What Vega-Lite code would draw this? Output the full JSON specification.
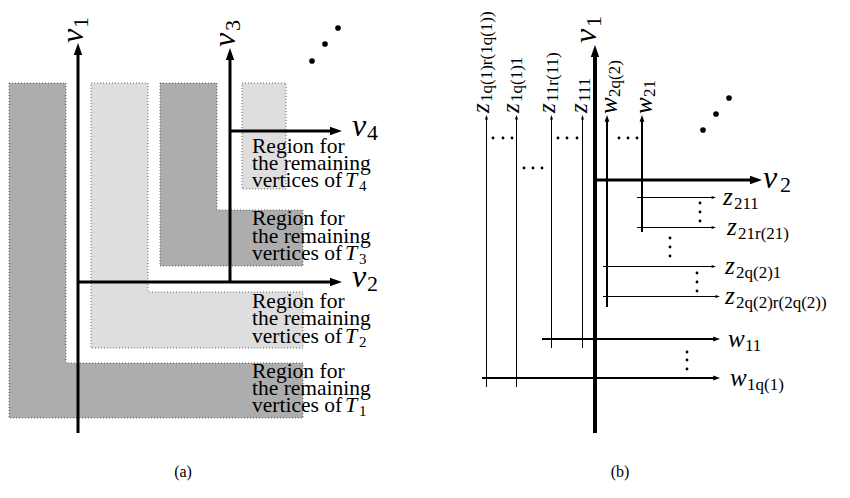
{
  "$schema": "https://vega.github.io/schema/vega-lite/v6.json",
  "width": 850,
  "height": 498,
  "autosize": {"type": "fit", "contains": "padding"},
  "padding": 0,
  "background": "white",
  "config": {"view": {"stroke": null}},
  "resolve": {"scale": {"size": "independent"}},
  "datasets": {
    "rects": [
      {"x": 9, "x2": 66, "y": 83, "y2": 365, "s": "dark"},
      {"x": 9, "x2": 303, "y": 363, "y2": 418, "s": "dark"},
      {"x": 91, "x2": 148, "y": 83, "y2": 294, "s": "light"},
      {"x": 91, "x2": 303, "y": 292, "y2": 348, "s": "light"},
      {"x": 160, "x2": 217, "y": 83, "y2": 212, "s": "dark"},
      {"x": 160, "x2": 303, "y": 210, "y2": 266, "s": "dark"},
      {"x": 242, "x2": 286, "y": 83, "y2": 189, "s": "light"}
    ],
    "outlines": [
      {"r": "T1", "o": 0, "x": 9, "y": 83}, {"r": "T1", "o": 1, "x": 66, "y": 83}, {"r": "T1", "o": 2, "x": 66, "y": 363}, {"r": "T1", "o": 3, "x": 303, "y": 363}, {"r": "T1", "o": 4, "x": 303, "y": 418}, {"r": "T1", "o": 5, "x": 9, "y": 418}, {"r": "T1", "o": 6, "x": 9, "y": 83},
      {"r": "T2", "o": 0, "x": 91, "y": 83}, {"r": "T2", "o": 1, "x": 148, "y": 83}, {"r": "T2", "o": 2, "x": 148, "y": 292}, {"r": "T2", "o": 3, "x": 303, "y": 292}, {"r": "T2", "o": 4, "x": 303, "y": 348}, {"r": "T2", "o": 5, "x": 91, "y": 348}, {"r": "T2", "o": 6, "x": 91, "y": 83},
      {"r": "T3", "o": 0, "x": 160, "y": 83}, {"r": "T3", "o": 1, "x": 217, "y": 83}, {"r": "T3", "o": 2, "x": 217, "y": 210}, {"r": "T3", "o": 3, "x": 303, "y": 210}, {"r": "T3", "o": 4, "x": 303, "y": 266}, {"r": "T3", "o": 5, "x": 160, "y": 266}, {"r": "T3", "o": 6, "x": 160, "y": 83},
      {"r": "T4", "o": 0, "x": 242, "y": 83}, {"r": "T4", "o": 1, "x": 286, "y": 83}, {"r": "T4", "o": 2, "x": 286, "y": 189}, {"r": "T4", "o": 3, "x": 242, "y": 189}, {"r": "T4", "o": 4, "x": 242, "y": 83}
    ],
    "rules": [
      {"x": 78, "y": 49, "x2": 78, "y2": 433, "w": "thick"},
      {"x": 78, "y": 282, "x2": 336, "y2": 282, "w": "thick"},
      {"x": 230, "y": 54, "x2": 230, "y2": 282, "w": "thick"},
      {"x": 230, "y": 131, "x2": 336, "y2": 131, "w": "thick"},
      {"x": 595, "y": 51, "x2": 595, "y2": 433, "w": "xthick"},
      {"x": 595, "y": 180, "x2": 756, "y2": 180, "w": "thick"},
      {"x": 642, "y": 118, "x2": 642, "y2": 232, "w": "medium"},
      {"x": 607, "y": 118, "x2": 607, "y2": 307, "w": "medium"},
      {"x": 542, "y": 339, "x2": 716, "y2": 339, "w": "medium"},
      {"x": 482, "y": 378, "x2": 716, "y2": 378, "w": "medium"},
      {"x": 486.5, "y": 117, "x2": 486.5, "y2": 387, "w": "thin"},
      {"x": 516.5, "y": 117, "x2": 516.5, "y2": 387, "w": "thin"},
      {"x": 551.5, "y": 117, "x2": 551.5, "y2": 348, "w": "thin"},
      {"x": 582.5, "y": 117, "x2": 582.5, "y2": 348, "w": "thin"},
      {"x": 637, "y": 197.5, "x2": 713, "y2": 197.5, "w": "thin"},
      {"x": 637, "y": 227.5, "x2": 713, "y2": 227.5, "w": "thin"},
      {"x": 603, "y": 266.5, "x2": 713, "y2": 266.5, "w": "thin"},
      {"x": 603, "y": 296.5, "x2": 717, "y2": 296.5, "w": "thin"}
    ],
    "arrows": [
      {"x": 78, "y": 43, "dir": "up", "w": "big"},
      {"x": 230, "y": 48, "dir": "up", "w": "big"},
      {"x": 342, "y": 282, "dir": "right", "w": "big"},
      {"x": 342, "y": 131, "dir": "right", "w": "big"},
      {"x": 595, "y": 45, "dir": "up", "w": "big"},
      {"x": 762, "y": 180, "dir": "right", "w": "big"},
      {"x": 720, "y": 339, "dir": "right", "w": "med"},
      {"x": 720, "y": 378, "dir": "right", "w": "med"},
      {"x": 642, "y": 115, "dir": "up", "w": "med"},
      {"x": 607, "y": 115, "dir": "up", "w": "med"},
      {"x": 486.5, "y": 115, "dir": "up", "w": "small"},
      {"x": 516.5, "y": 115, "dir": "up", "w": "small"},
      {"x": 551.5, "y": 115, "dir": "up", "w": "small"},
      {"x": 582.5, "y": 115, "dir": "up", "w": "small"},
      {"x": 716, "y": 197.5, "dir": "right", "w": "small"},
      {"x": 716, "y": 227.5, "dir": "right", "w": "small"},
      {"x": 716, "y": 266.5, "dir": "right", "w": "small"},
      {"x": 720, "y": 296.5, "dir": "right", "w": "small"}
    ],
    "dots": [
      {"x": 312, "y": 61, "k": "big"}, {"x": 325, "y": 44, "k": "big"}, {"x": 338, "y": 28, "k": "big"},
      {"x": 703, "y": 130, "k": "big"}, {"x": 716, "y": 114, "k": "big"}, {"x": 729, "y": 98, "k": "big"},
      {"x": 493, "y": 138, "k": "small"}, {"x": 503, "y": 138, "k": "small"}, {"x": 512, "y": 138, "k": "small"},
      {"x": 558, "y": 138, "k": "small"}, {"x": 567, "y": 138, "k": "small"}, {"x": 577, "y": 138, "k": "small"},
      {"x": 619, "y": 138, "k": "small"}, {"x": 628, "y": 138, "k": "small"}, {"x": 637, "y": 138, "k": "small"},
      {"x": 524, "y": 168, "k": "small"}, {"x": 533, "y": 168, "k": "small"}, {"x": 542, "y": 168, "k": "small"},
      {"x": 700, "y": 203, "k": "small"}, {"x": 700, "y": 212, "k": "small"}, {"x": 700, "y": 221, "k": "small"},
      {"x": 670, "y": 238, "k": "small"}, {"x": 670, "y": 247, "k": "small"}, {"x": 670, "y": 256, "k": "small"},
      {"x": 697, "y": 273, "k": "small"}, {"x": 697, "y": 282, "k": "small"}, {"x": 697, "y": 291, "k": "small"},
      {"x": 687, "y": 352, "k": "small"}, {"x": 687, "y": 360, "k": "small"}, {"x": 687, "y": 369, "k": "small"}
    ],
    "bigH": [
      {"x": 352, "y": 136, "t": "v"}, {"x": 352, "y": 287, "t": "v"}, {"x": 763, "y": 188, "t": "v"}
    ],
    "bigHsub": [
      {"x": 367, "y": 140, "t": "4"}, {"x": 367, "y": 291, "t": "2"}, {"x": 780, "y": 192, "t": "2"}
    ],
    "bigR": [
      {"x": 83, "y": 43, "t": "v"}, {"x": 235, "y": 47, "t": "v"}, {"x": 596, "y": 43, "t": "v"}
    ],
    "bigRsub": [
      {"x": 88, "y": 28, "t": "1"}, {"x": 240, "y": 31, "t": "3"}, {"x": 601, "y": 27, "t": "1"}
    ],
    "smallH": [
      {"x": 723, "y": 205, "t": "z"}, {"x": 727, "y": 235, "t": "z"}, {"x": 725, "y": 274, "t": "z"},
      {"x": 725, "y": 304, "t": "z"}, {"x": 728, "y": 347, "t": "w"}, {"x": 730, "y": 386, "t": "w"}
    ],
    "smallHsub": [
      {"x": 734, "y": 209, "t": "211"}, {"x": 738, "y": 239, "t": "21r(21)"}, {"x": 736, "y": 278, "t": "2q(2)1"},
      {"x": 736, "y": 308, "t": "2q(2)r(2q(2))"}, {"x": 745, "y": 351, "t": "11"}, {"x": 747, "y": 390, "t": "1q(1)"}
    ],
    "smallR": [
      {"x": 489, "y": 113, "t": "z"}, {"x": 519, "y": 113, "t": "z"}, {"x": 555, "y": 113, "t": "z"},
      {"x": 587, "y": 113, "t": "z"}, {"x": 617, "y": 114, "t": "w"}, {"x": 652, "y": 114, "t": "w"}
    ],
    "smallRsub": [
      {"x": 492, "y": 102, "t": "1q(1)r(1q(1))"}, {"x": 522, "y": 102, "t": "1q(1)1"}, {"x": 558, "y": 102, "t": "11r(11)"},
      {"x": 590, "y": 102, "t": "111"}, {"x": 620, "y": 97, "t": "2q(2)"}, {"x": 655, "y": 97, "t": "21"}
    ],
    "region": [
      {"x": 252, "y": 153, "t": "Region for"}, {"x": 252, "y": 170, "t": "the remaining"}, {"x": 252, "y": 187, "t": "vertices of"},
      {"x": 252, "y": 225, "t": "Region for"}, {"x": 252, "y": 243, "t": "the remaining"}, {"x": 252, "y": 260, "t": "vertices of"},
      {"x": 252, "y": 308, "t": "Region for"}, {"x": 252, "y": 325, "t": "the remaining"}, {"x": 252, "y": 343, "t": "vertices of"},
      {"x": 252, "y": 378, "t": "Region for"}, {"x": 252, "y": 395, "t": "the remaining"}, {"x": 252, "y": 412, "t": "vertices of"}
    ],
    "tees": [
      {"x": 345, "y": 187, "t": "T"}, {"x": 345, "y": 260, "t": "T"}, {"x": 345, "y": 343, "t": "T"}, {"x": 345, "y": 412, "t": "T"}
    ],
    "teesub": [
      {"x": 359, "y": 191, "t": "4"}, {"x": 359, "y": 264, "t": "3"}, {"x": 359, "y": 347, "t": "2"}, {"x": 359, "y": 416, "t": "1"}
    ],
    "captions": [
      {"x": 183, "y": 477, "t": "(a)"}, {"x": 620, "y": 477, "t": "(b)"}
    ]
  },
  "encoding": {
    "x": {"field": "x", "type": "quantitative", "scale": {"domain": [0, 850], "nice": false, "zero": false}, "axis": null},
    "y": {"field": "y", "type": "quantitative", "scale": {"domain": [0, 498], "nice": false, "zero": false, "reverse": true}, "axis": null}
  },
  "layer": [
    {
      "data": {"name": "rects"},
      "mark": {"type": "rect", "strokeWidth": 0},
      "encoding": {
        "x2": {"field": "x2"},
        "y2": {"field": "y2"},
        "color": {"field": "s", "type": "nominal", "scale": {"domain": ["dark", "light"], "range": ["#adadad", "#dedede"]}, "legend": null}
      }
    },
    {
      "data": {"name": "outlines"},
      "mark": {"type": "line", "color": "#444444", "strokeWidth": 0.8, "strokeDash": [1, 2]},
      "encoding": {
        "detail": {"field": "r", "type": "nominal"},
        "order": {"field": "o", "type": "quantitative"}
      }
    },
    {
      "data": {"name": "region"},
      "mark": {"type": "text", "font": "Liberation Serif, Times New Roman, serif", "fontSize": 21.5, "align": "left", "baseline": "alphabetic", "color": "black"},
      "encoding": {"text": {"field": "t"}}
    },
    {
      "data": {"name": "tees"},
      "mark": {"type": "text", "font": "Liberation Serif, Times New Roman, serif", "fontSize": 22, "fontStyle": "italic", "align": "left", "baseline": "alphabetic", "color": "black"},
      "encoding": {"text": {"field": "t"}}
    },
    {
      "data": {"name": "teesub"},
      "mark": {"type": "text", "font": "Liberation Serif, Times New Roman, serif", "fontSize": 15, "align": "left", "baseline": "alphabetic", "color": "black"},
      "encoding": {"text": {"field": "t"}}
    },
    {
      "data": {"name": "rules"},
      "transform": [{"filter": {"field": "w", "equal": "xthick"}}],
      "mark": {"type": "rule", "color": "black", "strokeWidth": 4},
      "encoding": {"x2": {"field": "x2"}, "y2": {"field": "y2"}}
    },
    {
      "data": {"name": "rules"},
      "transform": [{"filter": {"field": "w", "equal": "thick"}}],
      "mark": {"type": "rule", "color": "black", "strokeWidth": 3},
      "encoding": {"x2": {"field": "x2"}, "y2": {"field": "y2"}}
    },
    {
      "data": {"name": "rules"},
      "transform": [{"filter": {"field": "w", "equal": "medium"}}],
      "mark": {"type": "rule", "color": "black", "strokeWidth": 2},
      "encoding": {"x2": {"field": "x2"}, "y2": {"field": "y2"}}
    },
    {
      "data": {"name": "rules"},
      "transform": [{"filter": {"field": "w", "equal": "thin"}}],
      "mark": {"type": "rule", "color": "black", "strokeWidth": 1},
      "encoding": {"x2": {"field": "x2"}, "y2": {"field": "y2"}}
    },
    {
      "data": {"name": "arrows"},
      "transform": [{"filter": {"field": "w", "equal": "big"}}],
      "mark": {"type": "point", "filled": true, "color": "black", "opacity": 1, "strokeWidth": 0, "size": 400},
      "encoding": {
        "shape": {"field": "dir", "type": "nominal", "scale": {"domain": ["up", "right"], "range": ["M0,0L-0.42,1.2L0.42,1.2Z", "M0,0L-1.2,-0.42L-1.2,0.42Z"]}, "legend": null}
      }
    },
    {
      "data": {"name": "arrows"},
      "transform": [{"filter": {"field": "w", "equal": "med"}}],
      "mark": {"type": "point", "filled": true, "color": "black", "opacity": 1, "strokeWidth": 0, "size": 130},
      "encoding": {
        "shape": {"field": "dir", "type": "nominal", "scale": {"domain": ["up", "right"], "range": ["M0,0L-0.42,1.2L0.42,1.2Z", "M0,0L-1.2,-0.42L-1.2,0.42Z"]}, "legend": null}
      }
    },
    {
      "data": {"name": "arrows"},
      "transform": [{"filter": {"field": "w", "equal": "small"}}],
      "mark": {"type": "point", "filled": true, "color": "black", "opacity": 1, "strokeWidth": 0, "size": 55},
      "encoding": {
        "shape": {"field": "dir", "type": "nominal", "scale": {"domain": ["up", "right"], "range": ["M0,0L-0.42,1.2L0.42,1.2Z", "M0,0L-1.2,-0.42L-1.2,0.42Z"]}, "legend": null}
      }
    },
    {
      "data": {"name": "dots"},
      "transform": [{"filter": {"field": "k", "equal": "big"}}],
      "mark": {"type": "circle", "color": "black", "opacity": 1, "size": 32}
    },
    {
      "data": {"name": "dots"},
      "transform": [{"filter": {"field": "k", "equal": "small"}}],
      "mark": {"type": "circle", "color": "black", "opacity": 1, "size": 8}
    },
    {
      "data": {"name": "bigH"},
      "mark": {"type": "text", "font": "Liberation Serif, Times New Roman, serif", "fontSize": 32, "fontStyle": "italic", "align": "left", "baseline": "alphabetic", "color": "black"},
      "encoding": {"text": {"field": "t"}}
    },
    {
      "data": {"name": "bigHsub"},
      "mark": {"type": "text", "font": "Liberation Serif, Times New Roman, serif", "fontSize": 22, "align": "left", "baseline": "alphabetic", "color": "black"},
      "encoding": {"text": {"field": "t"}}
    },
    {
      "data": {"name": "bigR"},
      "mark": {"type": "text", "font": "Liberation Serif, Times New Roman, serif", "fontSize": 32, "fontStyle": "italic", "align": "left", "baseline": "alphabetic", "angle": 270, "color": "black"},
      "encoding": {"text": {"field": "t"}}
    },
    {
      "data": {"name": "bigRsub"},
      "mark": {"type": "text", "font": "Liberation Serif, Times New Roman, serif", "fontSize": 22, "align": "left", "baseline": "alphabetic", "angle": 270, "color": "black"},
      "encoding": {"text": {"field": "t"}}
    },
    {
      "data": {"name": "smallH"},
      "mark": {"type": "text", "font": "Liberation Serif, Times New Roman, serif", "fontSize": 25, "fontStyle": "italic", "align": "left", "baseline": "alphabetic", "color": "black"},
      "encoding": {"text": {"field": "t"}}
    },
    {
      "data": {"name": "smallHsub"},
      "mark": {"type": "text", "font": "Liberation Serif, Times New Roman, serif", "fontSize": 17, "align": "left", "baseline": "alphabetic", "color": "black"},
      "encoding": {"text": {"field": "t"}}
    },
    {
      "data": {"name": "smallR"},
      "mark": {"type": "text", "font": "Liberation Serif, Times New Roman, serif", "fontSize": 25, "fontStyle": "italic", "align": "left", "baseline": "alphabetic", "angle": 270, "color": "black"},
      "encoding": {"text": {"field": "t"}}
    },
    {
      "data": {"name": "smallRsub"},
      "mark": {"type": "text", "font": "Liberation Serif, Times New Roman, serif", "fontSize": 17, "align": "left", "baseline": "alphabetic", "angle": 270, "color": "black"},
      "encoding": {"text": {"field": "t"}}
    },
    {
      "data": {"name": "captions"},
      "mark": {"type": "text", "font": "Liberation Serif, Times New Roman, serif", "fontSize": 16, "align": "center", "baseline": "alphabetic", "color": "black"},
      "encoding": {"text": {"field": "t"}}
    }
  ]
}
